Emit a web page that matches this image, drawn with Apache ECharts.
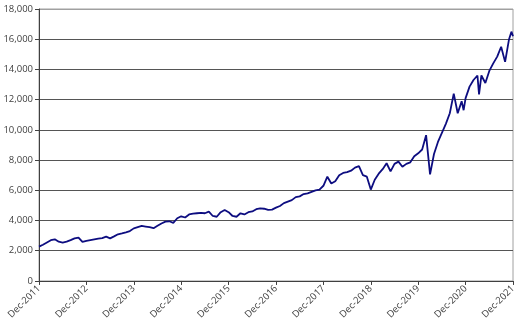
<!DOCTYPE html>
<html><head><meta charset="utf-8">
<script src="https://cdn.jsdelivr.net/npm/echarts@6/dist/echarts.min.js"></script>
<style>html,body{margin:0;padding:0;background:#fff}#c{width:520px;height:322px}</style>
</head><body><div id="c"></div>
<script>
// month index from Dec-2011 (0) to Dec-2021 (120); a few mid-month readings added
const months = [0,1,2,3,4,5,6,7,8,9,10,11,12,13,14,15,16,17,18,19,20,21,22,23,24,25,26,27,28,29,30,31,32,33,34,35,36,37,38,39,40,41,42,43,44,45,46,47,48,49,50,51,52,53,54,55,56,57,58,59,60,61,62,63,64,65,66,67,68,69,70,71,72,73,74,75,76,77,78,79,80,81,82,83,84,85,86,87,88,89,90,91,92,93,94,95,96,97,98,99,100,101,102,103,104,105,106,107,107.5,108,109,110,111,111.4,112,113,114,115,116,117,118,119,119.6,120];
const values = [2270,2400,2550,2700,2760,2600,2540,2600,2700,2820,2870,2580,2650,2700,2750,2800,2830,2930,2820,2950,3090,3150,3220,3300,3480,3560,3640,3600,3560,3490,3650,3800,3925,3950,3850,4150,4280,4200,4400,4450,4480,4500,4480,4590,4300,4250,4550,4700,4550,4300,4250,4480,4400,4550,4600,4750,4810,4780,4700,4720,4850,4960,5150,5250,5350,5550,5600,5750,5800,5900,6000,6050,6300,6900,6450,6600,7000,7150,7200,7300,7500,7600,7000,6900,6050,6700,7100,7400,7790,7250,7750,7900,7560,7750,7850,8250,8450,8700,9650,7050,8400,9200,9800,10400,11100,12400,11100,11900,11300,12100,12860,13300,13600,12350,13600,13100,13900,14400,14850,15500,14500,16000,16500,16200];
const tickLabels = ['Dec-2011','Dec-2012','Dec-2013','Dec-2014','Dec-2015','Dec-2016','Dec-2017','Dec-2018','Dec-2019','Dec-2020','Dec-2021'];

const data = months.map((m,i)=>[m, values[i]]);
const chart = echarts.init(document.getElementById('c'), null, {renderer:'canvas'});
const font = 'Open Sans';
chart.setOption({
  animation:false,
  grid:{left:39,right:7,top:9,bottom:41,show:true,borderColor:'#a0a0a0',borderWidth:1,containLabel:false},
  xAxis:{type:'value',min:0,max:120,interval:12,
    axisLine:{lineStyle:{color:'#404040',width:1}},
    axisTick:{show:true,length:4,lineStyle:{color:'#404040'}},
    splitLine:{show:false},
    axisLabel:{rotate:45,fontSize:9.5,color:'#404040',fontFamily:font,margin:6,
      formatter:v=>tickLabels[Math.round(v/12)]||''}},
  yAxis:{type:'value',min:0,max:18000,interval:2000,
    axisLine:{show:true,lineStyle:{color:'#404040',width:1}},
    axisTick:{show:true,length:4,lineStyle:{color:'#404040'}},
    splitLine:{show:true,lineStyle:{color:['#555','#555','#555','#555','#555','#555','#555','#555','#555','#a0a0a0'],width:1}},
    axisLabel:{fontSize:9.5,color:'#404040',fontFamily:font,margin:6,
      formatter:v=>v.toLocaleString('en-US')}},
  series:[{type:'line',data:data,symbol:'none',lineStyle:{color:'#0d0d80',width:1.8}}]
});
</script></body></html>
